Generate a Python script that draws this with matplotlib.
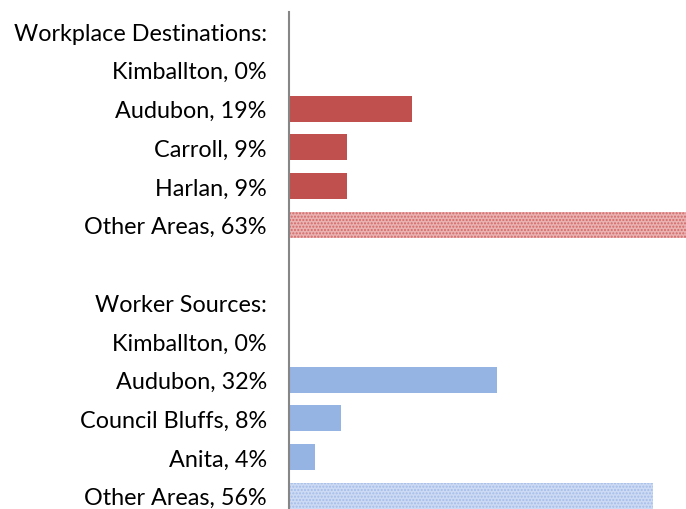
import matplotlib.pyplot as plt

labels = ["Workplace Destinations:", "Kimballton, 0%", "Audubon, 19%", "Carroll, 9%",
          "Harlan, 9%", "Other Areas, 63%", "",
          "Worker Sources:", "Kimballton, 0%", "Audubon, 32%", "Council Bluffs, 8%",
          "Anita, 4%", "Other Areas, 56%"]
dest_values = [0, 19, 9, 9, 63]
source_values = [0, 32, 8, 4, 56]

plt.rcParams['font.family'] = ['Lato', 'DejaVu Sans']

fig = plt.figure(figsize=(6.86, 5.10), dpi=100)
ax = fig.add_axes([289 / 686, -0.012, 1 - 289 / 686, 0.987])

red, red_light, red_hatch = '#c0504d', '#eab3b2', '#d06866'
blue, blue_light, blue_hatch = '#95b3e3', '#cddaf3', '#a3bce9'

dest_pos = [1, 2, 3, 4, 5]
source_pos = [8, 9, 10, 11, 12]
h = 0.67

for i, (p, v) in enumerate(zip(dest_pos, dest_values)):
    if i == len(dest_values) - 1:
        ax.barh(p, v, height=h, color=red_light, edgecolor=red_hatch, hatch='.....', linewidth=0)
    else:
        ax.barh(p, v, height=h, color=red, linewidth=0)
for i, (p, v) in enumerate(zip(source_pos, source_values)):
    if i == len(source_values) - 1:
        ax.barh(p, v, height=h, color=blue_light, edgecolor=blue_hatch, hatch='.....', linewidth=0)
    else:
        ax.barh(p, v, height=h, color=blue, linewidth=0)

ax.set_xlim(0, 61.1)
ax.set_ylim(12.5, -0.5)
ax.set_yticks(range(len(labels)))
ax.set_yticklabels(labels, fontsize=16.8)
ax.tick_params(axis='y', length=0, pad=16)
ax.set_xticks([])
for s in ['top', 'right', 'bottom']:
    ax.spines[s].set_visible(False)
ax.spines['left'].set_color('#868686')
ax.spines['left'].set_linewidth(1.5)

fig.savefig('out.png', dpi=100)
